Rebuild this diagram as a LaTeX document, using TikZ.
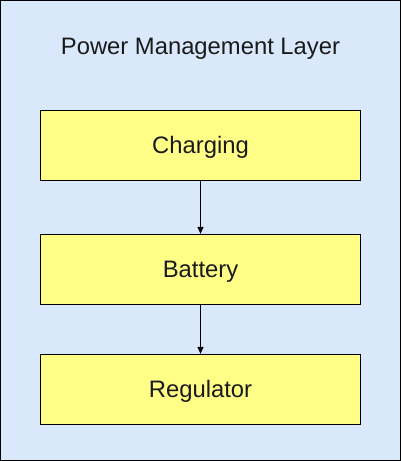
\documentclass[tikz,border=0pt]{standalone}
\usepackage{fontspec}
\setmainfont{Liberation Sans}
\usetikzlibrary{arrows.meta}
\definecolor{layerfill}{HTML}{DAE8FC}
\definecolor{boxfill}{HTML}{FFFF88}
\definecolor{txt}{HTML}{1A1A1A}
\tikzset{
  label text/.style={font=\fontsize{23.8}{27}\selectfont, text=txt, text height=16.5pt, text depth=0pt},
  layer/.style={draw=black, fill=layerfill, line width=1.2pt},
  stagebox/.style={label text, draw=black, fill=boxfill, line width=1.2pt, minimum width=320pt, minimum height=70pt, inner sep=0pt},
  flow/.style={draw=black, line width=1pt, -{Triangle[length=7pt,width=6pt]}},
}
\begin{document}
\begin{tikzpicture}[x=1pt,y=-1pt]
\useasboundingbox (0,0) rectangle (401,461);
\draw[layer] (0.6,0.6) rectangle (400.4,460.4);
\node[label text] (title) at (200.5,46) {Power Management Layer};
\node[stagebox] (charging) at (200.5,145.3) {Charging};
\node[stagebox] (battery) at (200.5,269.5) {Battery};
\node[stagebox] (regulator) at (200.5,389.5) {Regulator};
\draw[flow] (charging) -- (battery);
\draw[flow] (battery) -- (regulator);
\end{tikzpicture}
\end{document}
